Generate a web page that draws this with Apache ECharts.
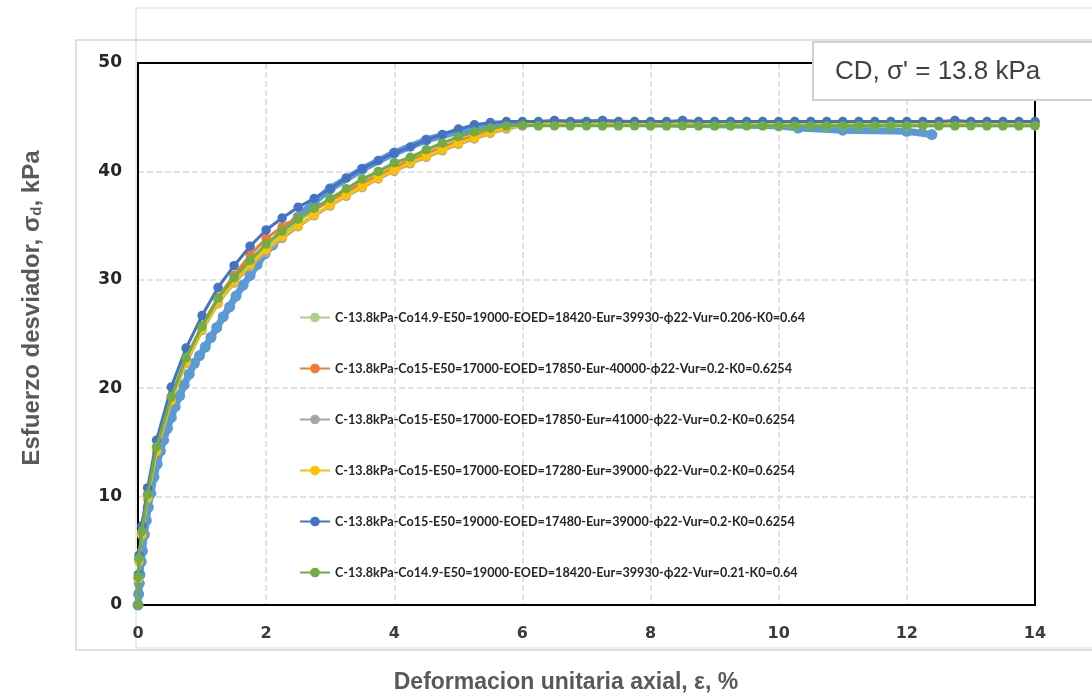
<!DOCTYPE html>
<html>
<head>
<meta charset="utf-8">
<script src="https://cdn.jsdelivr.net/npm/echarts@6/dist/echarts.min.js"></script>
<style>
html,body{margin:0;padding:0;background:#fff;}
#chart{width:1092px;height:697px;}
</style>
</head>
<body>
<div id="chart"></div>
<script>
// ---- data ----
const xTicks = [0, 2, 4, 6, 8, 10, 12, 14];
const yTicks = [0, 10, 20, 30, 40, 50];

const seriesNames = [
  'C-13.8kPa-Co14.9-E50=19000-EOED=18420-Eur=39930-\u03D522-Vur=0.206-K0=0.64',
  'C-13.8kPa-Co15-E50=17000-EOED=17850-Eur-40000-\u03D522-Vur=0.2-K0=0.6254',
  'C-13.8kPa-Co15-E50=17000-EOED=17850-Eur=41000-\u03D522-Vur=0.2-K0=0.6254',
  'C-13.8kPa-Co15-E50=17000-EOED=17280-Eur=39000-\u03D522-Vur=0.2-K0=0.6254',
  'C-13.8kPa-Co15-E50=19000-EOED=17480-Eur=39000-\u03D522-Vur=0.2-K0=0.6254',
  'C-13.8kPa-Co14.9-E50=19000-EOED=18420-Eur=39930-\u03D522-Vur=0.21-K0=0.64'
];
const seriesColors = ['#A9D18E', '#ED7D31', '#A5A5A5', '#FFC000', '#4472C4', '#70AD47'];

// model strain values (%)
const strain = [0,0.005,0.016,0.06,0.15,0.29,0.52,0.75,
  1,1.25,1.5,1.75,2,2.25,2.5,2.75,3,3.25,3.5,3.75,4,4.25,4.5,4.75,5,5.25,5.5,5.75,6,
  6.25,6.5,6.75,7,7.25,7.5,7.75,8,8.25,8.5,8.75,9,9.25,9.5,9.75,10,
  10.25,10.5,10.75,11,11.25,11.5,11.75,12,12.25,12.5,12.75,13,13.25,13.5,13.75,14];

const stressLightGreen = [0,2.5,4.2,6.7,10.1,14.5,19.1,22.6,25.6,28.1,30.0,31.6,33.1,34.3,35.4,36.4,37.3,38.2,39.1,39.8,40.6,41.2,41.9,42.5,43.1,43.6,43.9,44.1,44.2,
  44.2,44.3,44.2,44.3,44.2,44.2,44.3,44.2,44.2,44.3,44.2,44.2,44.2,44.3,44.2,44.2,44.2,44.3,44.2,44.2,44.2,44.2,44.3,44.2,44.2,44.2,44.2,44.3,44.2,44.2,44.2,44.2];
const stressOrange = [0,2.5,4.2,6.7,10.1,14.5,19.2,22.8,25.8,28.4,30.4,32.3,33.8,34.9,35.7,36.5,37.3,38.1,38.9,39.6,40.3,41.0,41.6,42.2,42.8,43.3,43.75,44.1,44.3,
  44.4,44.4,44.4,44.4,44.4,44.4,44.4,44.4,44.4,44.4,44.4,44.4,44.4,44.4,44.4,44.4,44.4,44.4,44.4,44.4,44.4,44.4,44.4,44.4,44.4,44.4,44.4,44.4,44.4,44.4,44.4,44.4];
const stressGray = [0,2.4,4.0,6.4,9.8,14.1,18.8,22.3,25.3,27.8,29.7,31.2,32.5,33.8,34.9,35.9,36.8,37.7,38.5,39.3,40.0,40.7,41.3,41.9,42.5,43.0,43.5,43.9,44.2,
  44.35,44.4,44.4,44.4,44.4,44.4,44.4,44.4,44.4,44.4,44.4,44.4,44.4,44.4,44.4,44.4,44.4,44.4,44.4,44.4,44.4,44.4,44.4,44.4,44.4,44.4,44.4,44.4,44.4,44.4,44.4,44.4];
const stressYellow = [0,2.4,4.1,6.5,9.9,14.2,18.9,22.4,25.4,27.9,29.8,31.4,32.8,34.0,35.0,36.0,36.9,37.8,38.6,39.4,40.1,40.8,41.4,42.0,42.6,43.1,43.6,44.0,44.3,
  44.4,44.4,44.4,44.4,44.4,44.4,44.4,44.4,44.4,44.4,44.4,44.4,44.4,44.4,44.4,44.4,44.4,44.4,44.4,44.4,44.4,44.4,44.4,44.4,44.4,44.4,44.4,44.4,44.4,44.4,44.4,44.4];
const stressBlue = [0,2.8,4.6,7.3,10.8,15.2,20.1,23.7,26.7,29.3,31.3,33.1,34.6,35.7,36.7,37.5,38.4,39.4,40.25,41.0,41.7,42.25,42.9,43.4,43.9,44.3,44.5,44.6,44.6,
  44.6,44.7,44.6,44.6,44.7,44.6,44.6,44.6,44.6,44.7,44.6,44.6,44.6,44.6,44.6,44.6,44.6,44.6,44.6,44.6,44.6,44.6,44.6,44.6,44.6,44.6,44.7,44.6,44.6,44.6,44.6,44.6];
const stressGreen = [0,2.6,4.3,6.8,10.2,14.6,19.2,22.8,25.7,28.3,30.2,31.8,33.3,34.5,35.6,36.6,37.5,38.4,39.3,40.0,40.8,41.3,42.0,42.6,43.2,43.65,44.0,44.2,44.25,
  44.2,44.2,44.2,44.2,44.2,44.2,44.2,44.2,44.2,44.2,44.2,44.2,44.2,44.2,44.2,44.2,44.2,44.2,44.2,44.2,44.2,44.2,44.2,44.2,44.2,44.2,44.2,44.2,44.2,44.2,44.2,44.2];

// measured (laboratory) curve
const expStrain = [0,0.01,0.02,0.03,0.05,0.07,0.1,0.13,0.16,0.2,0.25,0.3,0.35,0.4,0.46,0.52,0.58,0.65,0.72,0.8,0.88,0.96,
  1.05,1.14,1.23,1.33,1.43,1.53,1.64,1.75,1.86,1.98,2.1,2.22,2.35,2.5,2.75,3.0,3.5,4.0,4.5,5.0,5.5,6.0,7.0,8.0,9.0,10.0,10.3,11.0,12.0,12.39];
const expStress = [0,1.0,2.0,2.8,4.0,5.0,6.5,7.8,9.0,10.3,11.8,13.0,14.2,15.2,16.3,17.3,18.3,19.3,20.3,21.3,22.3,23.0,
  23.8,24.7,25.6,26.6,27.5,28.5,29.5,30.4,31.4,32.4,33.2,34.0,34.9,35.8,37.2,38.4,40.2,41.7,42.9,43.7,44.2,44.4,44.5,44.4,44.3,44.2,44.0,43.8,43.7,43.4];

const modelStress = [stressLightGreen, stressOrange, stressGray, stressYellow, stressBlue, stressGreen];

// ---- chart ----
const chart = echarts.init(document.getElementById('chart'), null, {renderer: 'canvas'});

const series = [{
  name: 'Laboratorio',
  type: 'line',
  data: expStrain.map((x, i) => [x, expStress[i]]),
  symbol: 'circle',
  symbolSize: 11,
  lineStyle: {color: '#5B9BD5', width: 7},
  itemStyle: {color: '#5B9BD5'},
  z: 2,
  animation: false
}];
seriesNames.forEach((n, k) => {
  series.push({
    name: n,
    type: 'line',
    data: strain.map((x, i) => [x, modelStress[k][i]]),
    symbol: 'circle',
    symbolSize: 9.5,
    lineStyle: {color: seriesColors[k], width: 3},
    itemStyle: {color: seriesColors[k]},
    z: 3 + k,
    animation: false
  });
});

const option = {
  animation: false,
  backgroundColor: '#ffffff',
  grid: {left: 138, right: 57, top: 63, bottom: 92, show: false, containLabel: false},
  xAxis: {
    type: 'value', min: xTicks[0], max: xTicks[xTicks.length - 1], interval: 2,
    axisLine: {show: true, lineStyle: {color: '#000', width: 2}},
    axisTick: {show: false},
    splitLine: {show: true, lineStyle: {color: '#D9D9D9', width: 1.5, type: [6, 3]}},
    axisLabel: {color: '#3a3a3a', fontFamily: 'DejaVu Sans', fontWeight: 'bold', fontSize: 16, margin: 21}
  },
  yAxis: {
    type: 'value', min: yTicks[0], max: yTicks[yTicks.length - 1], interval: 10,
    axisLine: {show: true, lineStyle: {color: '#000', width: 2}},
    axisTick: {show: false},
    splitLine: {show: true, lineStyle: {color: '#D9D9D9', width: 1.5, type: [6, 3]}},
    axisLabel: {color: '#262626', fontFamily: 'DejaVu Sans', fontWeight: 'bold', fontSize: 17, margin: 16}
  },
  legend: {
    data: seriesNames,
    orient: 'vertical',
    left: 294, top: 306,
    itemWidth: 30, itemHeight: 12,
    itemGap: 38,
    backgroundColor: 'transparent',
    textStyle: {color: '#262626', fontFamily: 'Lato', fontWeight: 'bold', fontSize: 12.6, padding: [0, 0, 0, 0]}
  },
  graphic: [
    {type: 'rect', z: -10, silent: true, shape: {x: 136, y: 8, width: 1000, height: 640}, style: {fill: 'none', stroke: '#E6E6E6', lineWidth: 1.5}},
    {type: 'rect', z: -9, silent: true, shape: {x: 76, y: 40, width: 1060, height: 610}, style: {fill: 'none', stroke: '#E0E0E0', lineWidth: 2}},
    {type: 'rect', z: 1, silent: true, shape: {x: 138, y: 63, width: 897, height: 542}, style: {fill: 'none', stroke: '#000', lineWidth: 2}},
    {type: 'rect', z: 100, silent: true, shape: {x: 813, y: 42, width: 300, height: 58}, style: {fill: '#ffffff', stroke: '#D0D0D0', lineWidth: 2}},
    {type: 'text', z: 101, silent: true, left: 835, top: 59,
      style: {text: 'CD, \u03C3\' = 13.8 kPa', fill: '#404040', font: '26px "Liberation Sans", Arial, sans-serif'}},
    {type: 'text', z: 101, silent: true, x: 566, y: 683,
      style: {text: 'Deformacion unitaria axial, \u03B5, %', fill: '#595959', align: 'center', verticalAlign: 'middle',
        font: 'bold 23px "Liberation Sans", Arial, sans-serif'}},
    {type: 'text', z: 101, silent: true, x: 32, y: 308, rotation: Math.PI / 2,
      style: {
        text: '{a|Esfuerzo desviador, \u03C3}{s|d}{a|, kPa}',
        align: 'center', verticalAlign: 'middle',
        rich: {
          a: {fill: '#595959', font: 'bold 24px "Liberation Sans", Arial, sans-serif'},
          s: {fill: '#595959', font: 'bold 15px "Liberation Sans", Arial, sans-serif', padding: [10, 0, 0, 0]}
        }
      }}
  ],
  series: series
};
chart.setOption(option);
</script>
</body>
</html>
